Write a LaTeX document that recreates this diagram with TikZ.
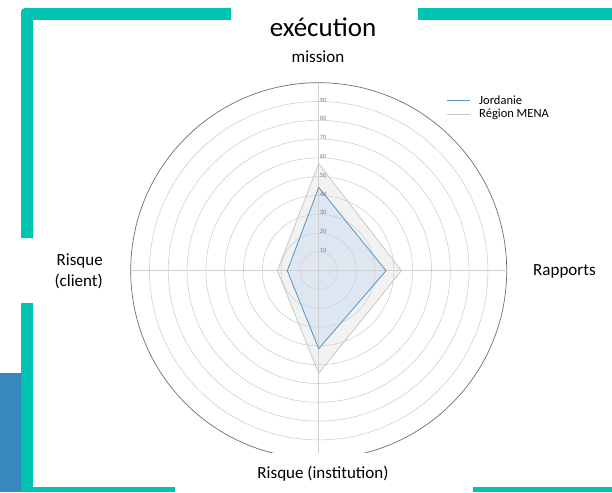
\documentclass[tikz,border=0pt]{standalone}
\usepackage{fontspec}
\setmainfont{Carlito}
\definecolor{framegreen}{RGB}{0,196,178}
\definecolor{sideblue}{RGB}{55,137,189}
\definecolor{jordblue}{RGB}{80,150,200}
\definecolor{jordfill}{RGB}{222,231,241}
\definecolor{menafill}{RGB}{242,242,242}
\definecolor{menaline}{RGB}{200,200,200}
\definecolor{ringgray}{RGB}{208,208,208}
\definecolor{outergray}{RGB}{110,110,110}
\begin{document}
\begin{tikzpicture}[x=1pt,y=-1pt,
  ring/.style={draw=ringgray, line width=0.6pt},
  outerring/.style={draw=outergray, line width=0.7pt},
  axislabel/.style={font=\fontsize{17}{21}\selectfont, inner sep=0pt},
  ticklabel/.style={font=\fontsize{6.5}{7}\selectfont, text=gray, inner sep=0pt, anchor=west},
  legendtext/.style={font=\fontsize{12.5}{14}\selectfont, inner sep=0pt, anchor=west},
  jordline/.style={draw=jordblue, line width=0.8pt},
  menaline/.style={draw=menaline, line width=0.8pt}]
\useasboundingbox (0,0) rectangle (612,492);

% frame
\fill[framegreen] (33,238) -- (21,238) -- (21,12) arc[start angle=180, end angle=270, radius=4]
  -- (231,8) -- (231,20) -- (33,20) -- cycle;
\fill[framegreen] (418,8) rectangle (612,20);
\fill[framegreen] (21,303) rectangle (33,492);
\fill[framegreen] (33,487) rectangle (175,492);
\fill[framegreen] (473,487) rectangle (612,492);
\fill[sideblue] (0,373) rectangle (21,492);

% radar chart
\coordinate (c) at (318.7,270.7);
\begin{scope}
\clip (0,0) rectangle (612,452);
\begin{scope}[shift={(c)}, x=1.88pt, y=1.88pt]
  \coordinate (mt) at (0,57);
  \coordinate (mr) at (44,0);
  \coordinate (mb) at (0,-54.6);
  \coordinate (ml) at (-22,0);
  \coordinate (jt) at (0,44.3);
  \coordinate (jr) at (35.8,0);
  \coordinate (jb) at (0,-41.5);
  \coordinate (jl) at (-16.7,0);
  \fill[menafill] (mt) -- (mr) -- (mb) -- (ml) -- cycle;
  \fill[jordfill] (jt) -- (jr) -- (jb) -- (jl) -- cycle;
  \foreach \r in {10,20,...,90}
    \draw[ring] (0,0) circle[radius=\r];
  \draw[outerring] (0,0) circle[radius=100];
  \draw[ring] (-100,0) -- (100,0);
  \draw[ring] (0,-100) -- (0,100);
  \foreach \r in {10,20,...,90}
    \node[ticklabel] at ([xshift=1pt,yshift=1.5pt]0,\r) {\r};
  \draw[menaline] (mt) -- (mr) -- (mb) -- (ml) -- cycle;
  \draw[jordline] (jt) -- (jr) -- (jb) -- (jl) -- cycle;
\end{scope}
\end{scope}

% labels
\node[axislabel, font=\fontsize{27}{30}\selectfont] (title) at (323,27) {exécution};
\node[axislabel] (mission) at (318,57) {mission};
\node[axislabel, align=right, anchor=east] (client) at (103,271) {Risque\\(client)};
\node[axislabel, anchor=west] (rapports) at (533,271) {Rapports};
\node[axislabel] (institution) at (323,474) {Risque (institution)};

% legend
\node[legendtext] (ljord) at (479,100) {Jordanie};
\node[legendtext] (lmena) at (479,114) {Région MENA};
\coordinate (kjord) at (447,100);
\coordinate (kmena) at (447,114);
\draw[jordline] (kjord) -- ++(23,0);
\draw[menaline] (kmena) -- ++(23,0);
\end{tikzpicture}
\end{document}
